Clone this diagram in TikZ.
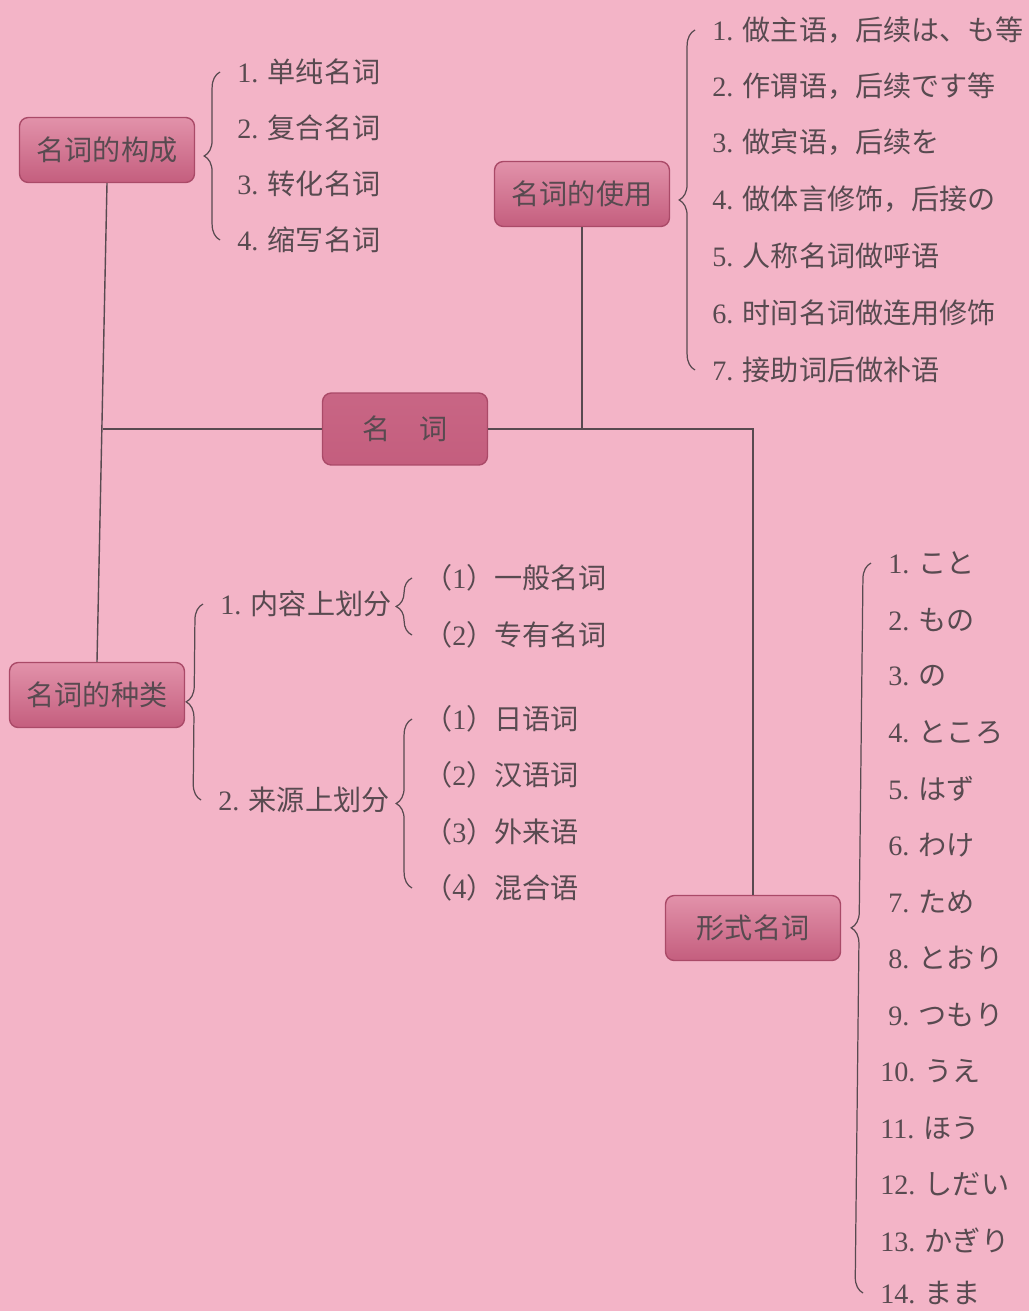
\documentclass[tikz,border=0pt]{standalone}
\usepackage{fontspec}
\setmainfont{Liberation Serif}
\newfontfamily\cjk{Noto Sans CJK SC}
\usepackage{tikz}
\usetikzlibrary{decorations.pathreplacing}
\definecolor{bgpink}{RGB}{243,180,199}
\definecolor{boxtop}{RGB}{226,146,170}
\definecolor{boxbot}{RGB}{196,94,126}
\definecolor{boxline}{RGB}{170,74,104}
\definecolor{ink}{RGB}{88,74,80}
\tikzstyle{topic}=[draw=boxline,line width=0.8pt,rounded corners=5pt,top color=boxtop,bottom color=boxbot,text=ink,minimum width=3.5cm,minimum height=1.3cm,font=\fontsize{16}{19}\selectfont\cjk]
\tikzstyle{item}=[anchor=west,inner sep=0pt,text=ink,font=\fontsize{16}{19}\selectfont]
\tikzstyle{kuo}=[draw=ink,line width=0.7pt,decorate,decoration={brace,amplitude=9pt}]
\tikzstyle{link}=[draw=ink,line width=0.8pt]
\def\kh#1{{\cjk （}#1{\cjk ）}}

\begin{document}
\begin{tikzpicture}[x=0.02cm,y=-0.02cm]
      \useasboundingbox (0,0) rectangle (1029,1311);
      \fill [bgpink] (0,0) rectangle (1029,1311);
      % main topics
      \node [topic, minimum width=3.3cm, minimum height=1.44cm, top color=boxbot!85!boxtop] (mc) at (405,429) {名\hspace{1em}词};
      \node [topic] (gc) at (107,150) {名词的构成};
      \node [topic] (sy) at (582,194) {名词的使用};
      \node [topic] (zl) at (97,695) {名词的种类};
      \node [topic] (xs) at (753,928) {形式名词};

      % 名词的构成
      \node [item] (g1) at (237,72) {1. \cjk 单纯名词};
      \node [item] (g2) at (237,128) {2. \cjk 复合名词};
      \node [item] (g3) at (237,184) {3. \cjk 转化名词};
      \node [item] (g4) at (237,240) {4. \cjk 缩写名词};

      % 名词的使用
      \node [item] (s1) at (712,30) {1. \cjk 做主语，后续は、も等};
      \node [item] (s2) at (712,86) {2. \cjk 作谓语，后续です等};
      \node [item] (s3) at (712,142) {3. \cjk 做宾语，后续を};
      \node [item] (s4) at (712,199) {4. \cjk 做体言修饰，后接の};
      \node [item] (s5) at (712,256) {5. \cjk 人称名词做呼语};
      \node [item] (s6) at (712,313) {6. \cjk 时间名词做连用修饰};
      \node [item] (s7) at (712,370) {7. \cjk 接助词后做补语};

      % 名词的种类
      \node [item] (z1) at (220,604) {1. \cjk 内容上划分};
      \node [item] (z2) at (218,800) {2. \cjk 来源上划分};
      \node [item] (n1) at (424,578) {\kh{1}{\cjk 一般名词}};
      \node [item] (n2) at (424,635) {\kh{2}{\cjk 专有名词}};
      \node [item] (l1) at (424,719) {\kh{1}{\cjk 日语词}};
      \node [item] (l2) at (424,775) {\kh{2}{\cjk 汉语词}};
      \node [item] (l3) at (424,832) {\kh{3}{\cjk 外来语}};
      \node [item] (l4) at (424,888) {\kh{4}{\cjk 混合语}};

      % 形式名词
      \node [item] (f1) at (888,563) {1. \cjk こと};
      \node [item] (f2) at (888,620) {2. \cjk もの};
      \node [item] (f3) at (888,676) {3. \cjk の};
      \node [item] (f4) at (888,732) {4. \cjk ところ};
      \node [item] (f5) at (888,789) {5. \cjk はず};
      \node [item] (f6) at (888,845) {6. \cjk わけ};
      \node [item] (f7) at (888,902) {7. \cjk ため};
      \node [item] (f8) at (888,958) {8. \cjk とおり};
      \node [item] (f9) at (888,1015) {9. \cjk つもり};
      \node [item] (f10) at (880,1071) {10. \cjk うえ};
      \node [item] (f11) at (880,1128) {11. \cjk ほう};
      \node [item] (f12) at (880,1184) {12. \cjk しだい};
      \node [item] (f13) at (880,1240) {13. \cjk かぎり};
      \node [item] (f14) at (880,1293) {14. \cjk まま};

      % braces
      \draw [kuo] ([xshift=-0.34cm]g4.west) -- ([xshift=-0.34cm]g1.west);
      \draw [kuo] ([xshift=-0.34cm]s7.west) -- ([xshift=-0.34cm]s1.west);
      \draw [kuo] ([xshift=-0.34cm]z2.west) -- ([xshift=-0.34cm]z1.west);
      \draw [kuo] ([xshift=-0.24cm]n2.west) -- ([xshift=-0.24cm]n1.west);
      \draw [kuo] ([xshift=-0.24cm]l4.west) -- ([xshift=-0.24cm]l1.west);
      \draw [kuo] ([xshift=-0.34cm]f14.west) -- ([xshift=-0.34cm]f1.west);

      % connectors
      \coordinate (j1) at (103,429);
      \draw [link] (gc.south) -- (zl.north);
      \draw [link] (j1) -- (mc.west);
      \draw [link] (mc.east) -- (mc.east -| xs.north) -- (xs.north);
      \draw [link] (sy.south) -- (sy.south |- mc.east);
\end{tikzpicture}
\end{document}
